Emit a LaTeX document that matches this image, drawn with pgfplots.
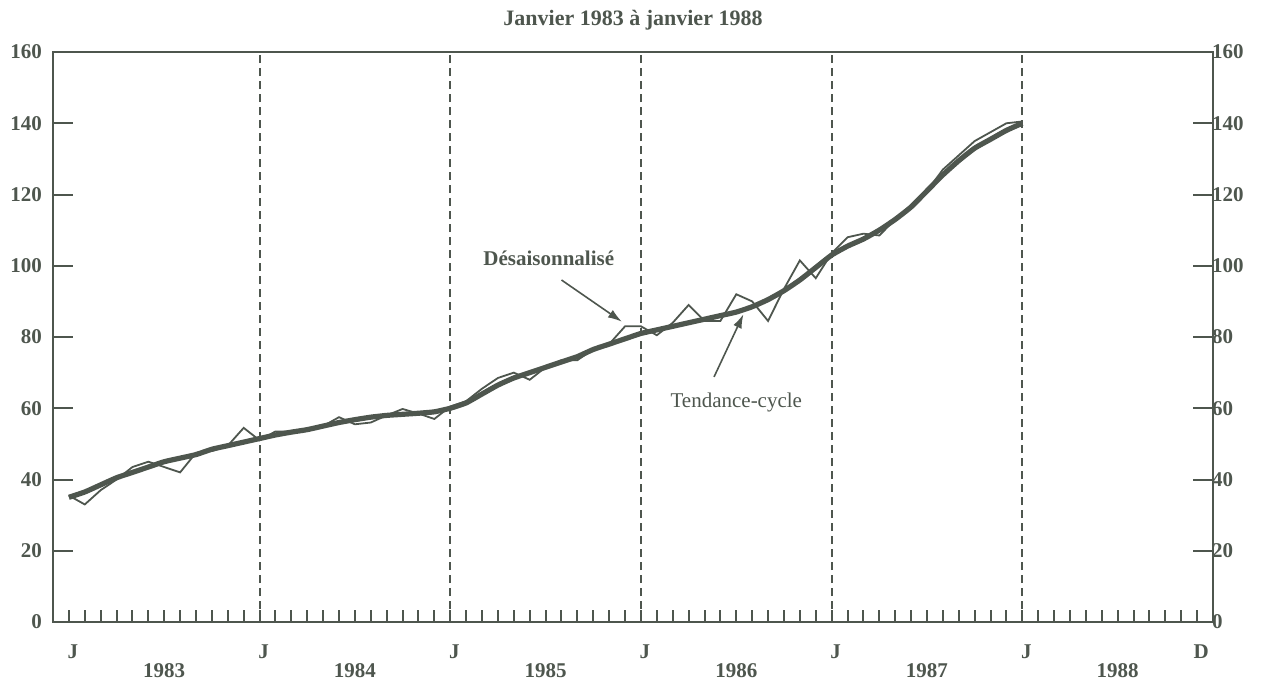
\documentclass[border=0pt]{standalone}
\usepackage{fontspec}
\setmainfont{Liberation Serif}
\usepackage{pgfplots}
\usepackage{pgfplotstable}
\usetikzlibrary{arrows.meta}
\pgfplotsset{compat=1.18}
\definecolor{ink}{RGB}{78,86,78}

\pgfplotstableread{
m trend sa
0 35 35.5
1 36.5 33
2 38.5 37
3 40.5 40
4 42 43.5
5 43.5 45
6 45 43.5
7 46 42
8 47 47.5
9 48.5 48
10 49.5 49.5
11 50.5 54.5
12 51.5 51
13 52.5 53.5
14 53.3 53.5
15 54 54
16 55 55
17 56 57.5
18 56.8 55.5
19 57.5 56
20 58 58
21 58.3 59.8
22 58.6 58.5
23 59 57
24 60 60.5
25 61.5 62
26 64 65.5
27 66.5 68.5
28 68.5 70
29 70 68
30 71.5 71.5
31 73 73.5
32 74.5 73.5
33 76.5 76.5
34 78 78
35 79.5 83
36 81 83
37 82 80.5
38 83 84
39 84 89
40 85 84.5
41 86 84.5
42 87 92
43 88.5 90
44 90.5 84.5
45 93 93.5
46 96 101.5
47 99.5 96.5
48 103 103.5
49 105.5 108
50 107.5 109
51 110 108.5
52 113 113
53 116.5 117
54 121 121
55 125.5 127
56 129.5 131
57 133 135
58 135.5 137.5
59 138 140
60 140 140.5
}\datatable

\begin{document}
\begin{tikzpicture}
\pgfplotsset{
  common/.style={
    width=580pt, height=285pt, scale only axis,
    xmin=-1, xmax=72, ymin=0, ymax=160,
    axis line style={ink, line width=1.2pt},
    every tick/.style={ink, line width=1pt},
    tick align=inside,
    /pgf/number format/assume math mode=true,
    yticklabel style={font=\fontsize{10.5}{12}\selectfont\bfseries, text=ink},
    clip=false,
  },
  yside/.style={common,
    axis x line=none,
    ytick={0,20,...,160},
    major tick length=10pt,
  }
}
\begin{axis}[common, name=ax,
    ytick=\empty,
    xtick pos=bottom,
    xtick={0,...,71},
    xticklabels={},
    major tick length=6pt,
    extra x ticks={0,12,24,36,48,60,71},
    extra x tick labels={J,J,J,J,J,J,D},
    extra x tick style={
      xticklabel style={font=\fontsize{10.5}{12}\selectfont\bfseries, text=ink, yshift=-8pt, xshift=2pt}},
  ]
  \foreach \yr in {12,24,36,48,60}{
    \edef\tmp{\noexpand\draw[ink, line width=1pt, dash pattern=on 4pt off 2.5pt] (axis cs:\yr,0) -- (axis cs:\yr,160);}
    \tmp
  }
  \addplot[ink, line width=2.6pt, line join=round, smooth, tension=0.3] table[x=m, y=trend] {\datatable};
  \addplot[ink, line width=0.9pt, line join=miter] table[x=m, y=sa] {\datatable};
  \node[font=\fontsize{10.5}{12}\selectfont\bfseries, text=ink] at (axis cs:30.2,102.2) {Désaisonnalisé};
  \draw[ink, line width=0.8pt, -{Latex[length=7pt,width=4.5pt]}] (axis cs:31.0,96) -- (axis cs:34.8,84.3);
  \node[font=\fontsize{10.5}{12}\selectfont, text=ink] at (axis cs:42,61.5) {Tendance-cycle};
  \draw[ink, line width=0.8pt, -{Latex[length=7pt,width=4.5pt]}] (axis cs:40.6,68.8) -- (axis cs:42.45,86.4);
  \foreach \yr/\lab in {6/1983,18/1984,30/1985,42/1986,54/1987,66/1988}{
    \edef\tmp{\noexpand\node[font=\noexpand\fontsize{10.5}{12}\noexpand\selectfont\noexpand\bfseries, text=ink] at ([yshift=-24.5pt]axis cs:\yr,0) {\lab};}
    \tmp
  }
  \node[font=\fontsize{11}{13}\selectfont\bfseries, text=ink] at ([yshift=16pt]rel axis cs:0.5,1) {Janvier 1983 à janvier 1988};
\end{axis}
\begin{axis}[yside, at={(ax.south west)}, anchor=south west,
    axis y line*=left,
    yticklabel style={xshift=-2pt},
  ]
  \addplot[draw=none] coordinates {(0,0)};
\end{axis}
\begin{axis}[yside, at={(ax.south west)}, anchor=south west,
    axis y line*=right,
    yticklabel style={xshift=-4pt},
  ]
  \addplot[draw=none] coordinates {(0,0)};
\end{axis}
\pgfresetboundingbox
\path[use as bounding box] ([xshift=-26.5pt,yshift=-30pt]ax.south west) rectangle ([xshift=24pt,yshift=26pt]ax.north east);
\end{tikzpicture}
\end{document}
